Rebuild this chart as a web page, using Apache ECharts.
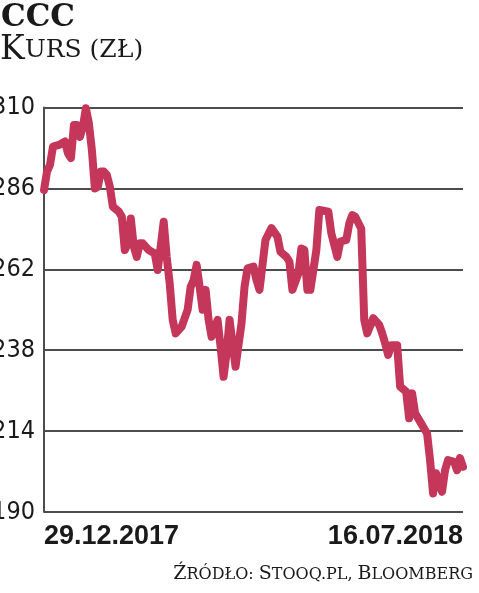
<!DOCTYPE html>
<html>
<head>
<meta charset="utf-8">
<script src="https://cdn.jsdelivr.net/npm/echarts@6/dist/echarts.min.js"></script>
<style>
  html, body { margin: 0; padding: 0; background: #fff; }
  #chart { width: 479px; height: 593px; }
</style>
</head>
<body>
<div id="chart"></div>
<script>
// session index (trading days since 29.12.2017) and close price
const sessions = [0, 1, 2, 3, 5, 7, 8, 9, 10, 11, 12, 13, 14, 15, 16, 17, 18, 19, 20, 21,
  22, 23, 25, 26, 27, 28, 29, 30, 31, 32, 33, 35, 37, 38, 40, 41, 42, 43, 44, 46,
  48, 49, 50, 51, 52, 53, 54, 55, 56, 58, 59, 60, 61, 62, 63, 64, 66, 67, 68, 70,
  71, 72, 74, 76, 78, 79, 81, 82, 83, 85, 86, 87, 88, 89, 91, 92, 95, 96, 98, 99,
  101, 102, 103, 104, 106, 107, 108, 110, 112, 113, 114, 115, 116, 118, 119, 121, 122, 123, 124, 126,
  128, 129, 130, 131, 133, 134, 135, 137, 138, 139, 140]
const prices = [285.5, 291, 293, 298.4, 298.9, 299.9, 296.4, 295, 304.8, 304.8, 301.3, 304.3, 309.8, 305.3, 297.4, 286, 286.5, 291, 291, 290,
  286.5, 280.6, 279.1, 277.6, 267.7, 269.7, 277.1, 268.7, 265.7, 269.7, 269.7, 267.7, 266.7, 261.8, 276.1, 265.7, 257.8, 247, 243, 245,
  250, 256.8, 258.8, 263.3, 256.8, 250, 255.9, 247, 242, 247, 239, 230.1, 237.1, 247, 240, 233.1, 246, 256.8, 262.3, 262.8,
  258.8, 255.9, 270.7, 274.2, 271.7, 267.2, 265.7, 264.3, 255.9, 260.8, 268.2, 267.7, 255.9, 255.9, 267.7, 279.6, 279.1, 272.7, 265.7, 270.2,
  270.7, 275.6, 278.1, 277.6, 274, 247, 243, 247.5, 245.5, 243, 240, 236.6, 239.5, 239.5, 227.2, 225.7, 217.8, 225.2, 219.3, 216.3,
  213.3, 205.4, 195.5, 201.5, 196, 202.4, 205.4, 204.9, 202.4, 206, 203.4]

const xTicks = [0, 140]
const xLabels = ['29.12.2017', '16.07.2018']
const yMin = 190
const yMax = 310
const yStep = 24

const chart = echarts.init(document.getElementById('chart'))

const condensed = "'DejaVu Sans Condensed', 'Liberation Sans Narrow', sans-serif"
const serif = "'DejaVu Serif', 'Liberation Serif', serif"
const gridColor = '#4d4d4d'

const option = {
  animation: false,
  backgroundColor: '#fff',
  title: [
    {
      text: 'CCC',
      left: 1,
      top: 2,
      padding: 0,
      textStyle: { fontFamily: serif, fontWeight: 'bold', fontSize: 31, color: '#1a1a1a' }
    },
    {
      text: '{b|K}{s|URS (ZŁ)}',
      left: 0,
      top: 34,
      padding: 0,
      textStyle: {
        fontWeight: 'normal',
        rich: {
          b: { fontFamily: serif, fontWeight: 'normal', fontSize: 33, color: '#1a1a1a' },
          s: { fontFamily: serif, fontWeight: 'normal', fontSize: 25, color: '#1a1a1a' }
        }
      }
    },
    {
      text: '{b|Ź}{s|RÓDŁO:} {b|S}{s|TOOQ.PL,} {b|B}{s|LOOMBERG}',
      right: 6,
      top: 565,
      padding: 0,
      textStyle: {
        fontWeight: 'normal',
        rich: {
          b: { fontFamily: serif, fontWeight: 'normal', fontSize: 19, color: '#1a1a1a' },
          s: { fontFamily: serif, fontWeight: 'normal', fontSize: 16, color: '#1a1a1a' }
        }
      }
    }
  ],
  grid: { left: 44, right: 16, top: 107.5, bottom: 81, outerBoundsMode: 'none', containLabel: false },
  xAxis: {
    type: 'value',
    min: xTicks[0],
    max: xTicks[1],
    interval: xTicks[1] - xTicks[0],
    axisLine: { show: false },
    axisTick: { show: false },
    splitLine: { show: false },
    axisLabel: {
      margin: 11,
      fontFamily: "'Liberation Sans', Arial, sans-serif",
      fontWeight: 'bold',
      fontSize: 27,
      color: '#1a1a1a',
      alignMinLabel: 'left',
      alignMaxLabel: 'right',
      formatter: (v) => {
        const i = xTicks.indexOf(v)
        return i >= 0 ? xLabels[i] : ''
      }
    }
  },
  yAxis: {
    type: 'value',
    min: yMin,
    max: yMax,
    interval: yStep,
    axisLine: { show: true, lineStyle: { color: gridColor, width: 2 } },
    axisTick: { show: false },
    splitLine: { lineStyle: { color: gridColor, width: 2 } },
    axisLabel: {
      margin: 9,
      fontFamily: condensed,
      fontSize: 25,
      color: '#1a1a1a'
    }
  },
  series: [
    {
      type: 'line',
      data: sessions.map((s, i) => [s, prices[i]]),
      showSymbol: false,
      lineStyle: { color: '#c4375a', width: 8, cap: 'round', join: 'round' }
    }
  ]
}

chart.setOption(option)
</script>
</body>
</html>
